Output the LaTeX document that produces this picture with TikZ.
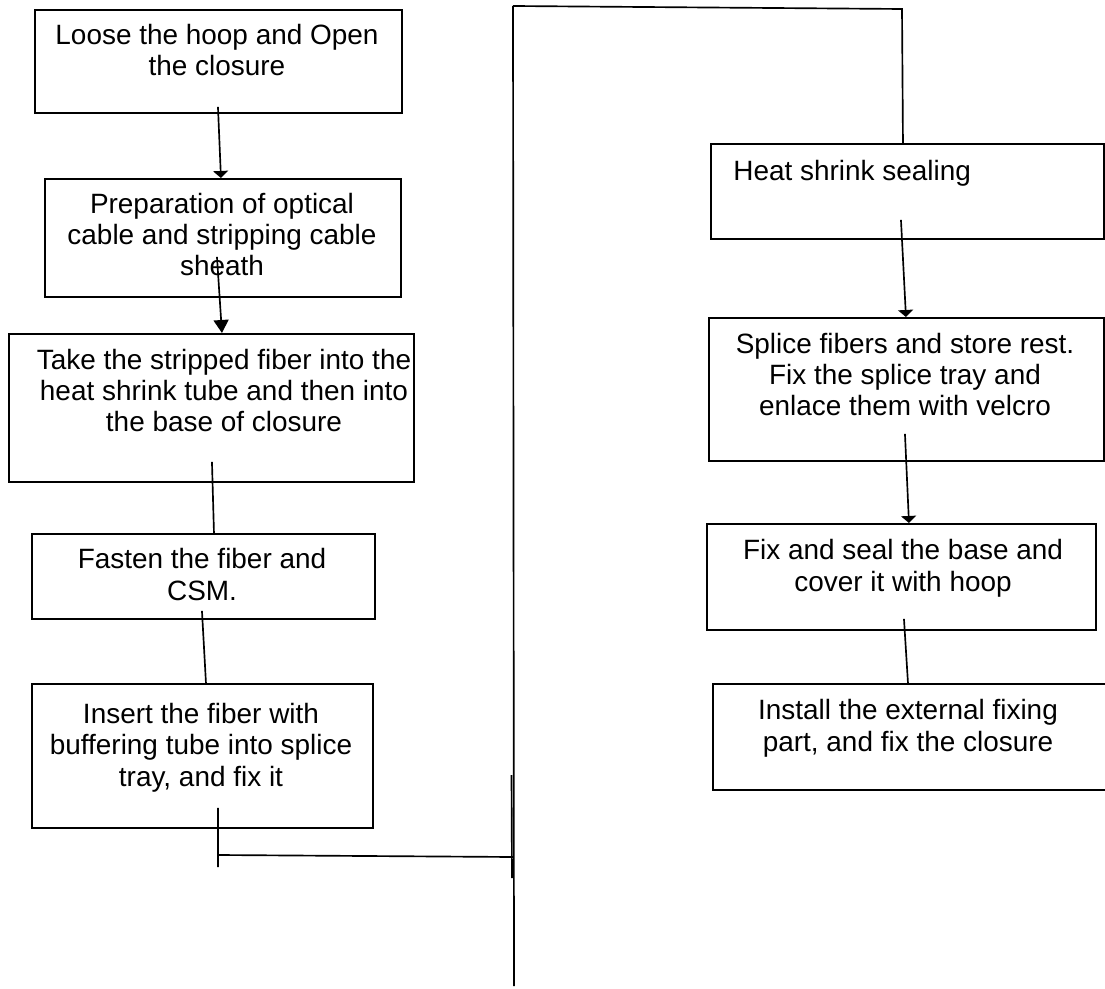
\documentclass[tikz,border=0pt]{standalone}
\usepackage{fontspec}
\setmainfont{Liberation Sans}
\usetikzlibrary{calc,arrows.meta}

\begin{document}
\begin{tikzpicture}[x=0.02cm,y=-0.02cm,
  stepbox/.style 2 args={draw,line width=1.1pt,inner sep=0pt,anchor=north west,minimum width={#1*0.02cm},minimum height={#2*0.02cm}},
  steptext/.style={inner sep=0pt,anchor=base,align=center,font=\fontsize{15.9}{17.7}\selectfont},
  flow/.style={line width=0.95pt},
  fullhead/.style={-{Triangle[width=8.5pt,length=7.4pt]}},
  cuthead/.style={-{Triangle[width=8.5pt,length=4pt]}}]
  \useasboundingbox (0,0) rectangle (1105,989);
  % left column (text nodes sit on the baseline of their last line)
  \node[stepbox={367}{103}] (s1) at (34,9) {};
  \node[steptext] (t1) at (217,76) {Loose the hoop and Open\\the closure};
  \node[stepbox={356}{118}] (s2) at (44,178) {};
  \node[steptext] (t2) at (222,276) {Preparation of optical\\cable and stripping cable\\sheath};
  \node[stepbox={405}{148}] (s3) at (8,333) {};
  \node[steptext] (t3) at (224,432) {Take the stripped fiber into the\\heat shrink tube and then into\\the base of closure};
  \node[stepbox={343}{85}] (s4) at (31,533) {};
  \node[steptext] (t4) at (202,600) {Fasten the fiber and\\CSM.};
  \node[stepbox={341}{144}] (s5) at (31,683) {};
  \node[steptext] (t5) at (201,786) {Insert the fiber with\\buffering tube into splice\\tray, and fix it};
  % right column
  \node[stepbox={393}{95}] (s6) at (710,143) {};
  \node[steptext,anchor=base west] (t6) at (733,181) {Heat shrink sealing};
  \node[stepbox={395}{143}] (s7) at (708,317) {};
  \node[steptext] (t7) at (905,416) {Splice fibers and store rest.\\Fix the splice tray and\\enlace them with velcro};
  \node[stepbox={389}{106}] (s8) at (706,523) {};
  \node[steptext] (t8) at (903,591) {Fix and seal the base and\\cover it with hoop};
  \node[stepbox={393}{106}] (s9) at (712,683) {};
  \node[steptext] (t9) at (908,751) {Install the external fixing\\part, and fix the closure};
  % connectors
  \draw[flow,cuthead] ($(s1.south)+(-0.5,-7)$) -- ($(s2.north)+(-2,0)$);
  \draw[flow,fullhead] ($(s2.south)+(-6,-41)$) -- ($(s3.north)+(10.5,0)$);
  \draw[flow] ($(s3.south)+(0.5,-21)$) -- ($(s4.north)+(10.5,0)$);
  \draw[flow] ($(s4.south)+(-1.5,-9)$) -- ($(s5.north)+(3.5,0)$);
  \coordinate (stubEnd) at (218,867);
  \draw[flow] ($(s5.south)+(15.5,-21)$) -- (stubEnd);
  % return line
  \coordinate (joinL) at (218,855);
  \coordinate (joinR) at (513,857);
  \coordinate (busTop) at (513,6);
  \coordinate (busBot) at (514,986);
  \coordinate (topR) at (902,9);
  \draw[flow] (joinL) -- (joinR);
  \draw[flow] (busTop) -- (busBot);
  \draw[flow] (511.5,775) -- (512,878);
  \draw[flow] (busTop) -- (topR) -- ($(s6.north)+(-4.5,0)$);
  \draw[flow,cuthead] ($(s6.south)+(-6.5,-20)$) -- ($(s7.north)+(-0.5,0)$);
  \draw[flow,cuthead] ($(s7.south)+(-1.5,-28)$) -- ($(s8.north)+(7.5,0)$);
  \draw[flow] ($(s8.south)+(2.5,-12)$) -- ($(s9.north)+(-1.5,0)$);
\end{tikzpicture}
\end{document}
